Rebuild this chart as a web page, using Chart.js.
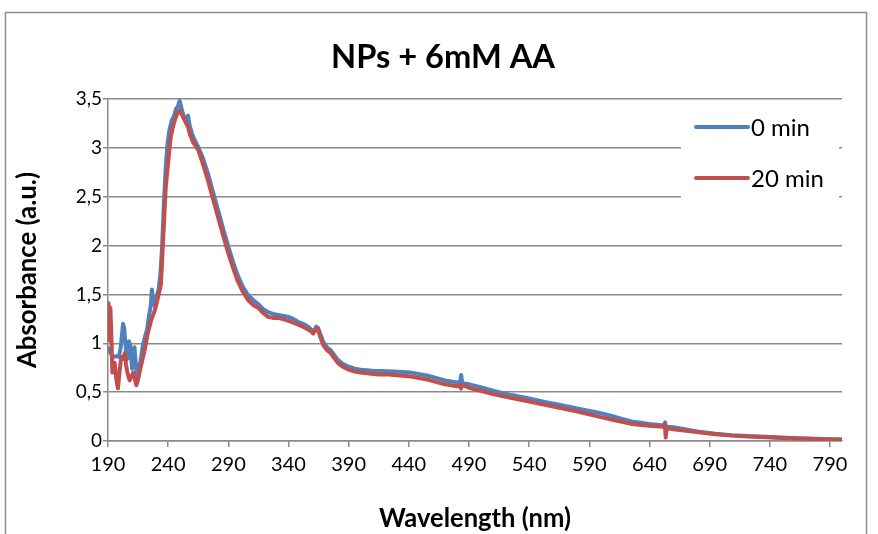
<!DOCTYPE html>
<html>
<head>
<meta charset="utf-8">
<script src="https://cdn.jsdelivr.net/npm/chart.js@4.4.1/dist/chart.umd.min.js"></script>
<style>
  html, body { margin: 0; padding: 0; background: #ffffff; }
  #wrap { width: 878px; height: 534px; }
</style>
</head>
<body>
<div id="wrap"><canvas id="c" width="878" height="534"></canvas></div>
<script>
// UV-Vis spectra of the nanoparticles with 6 mM ascorbic acid
const chartTitle = 'NPs + 6mM AA';
const xTitle = 'Wavelength (nm)';
const yTitle = 'Absorbance (a.u.)';
const seriesNames = ['0 min', '20 min'];
const xTicks = [190, 240, 290, 340, 390, 440, 490, 540, 590, 640, 690, 740, 790];
const yTickLabels = ['0', '0,5', '1', '1,5', '2', '2,5', '3', '3,5'];

// 0 min spectrum
const wl0 = [190, 191.5, 193, 195, 197, 199, 200.5, 202.5, 203.5, 205, 206, 207.5, 208.5, 210, 211, 212, 213, 214, 215.5, 217, 219, 221, 222.5, 224, 225.5, 226.5, 227.5, 229, 230.5, 232, 233.5, 235, 236.5, 238, 239.5, 241, 243, 245, 246.5, 248, 249.5, 250.5, 252, 253.5, 255, 256.5, 258, 260, 262, 265, 269, 273, 277, 281.5, 286, 290, 294, 298, 302, 306.5, 311, 315, 319, 323, 327, 331.5, 336, 340, 344, 348, 352, 356.5, 359, 361, 363, 364.5, 366, 369, 372, 375, 378, 381, 385, 390, 395, 400, 410, 423, 442, 455, 470, 480, 482.5, 483.5, 484.5, 490, 498, 510, 525.5, 540, 553, 567, 581, 597.7, 612, 625, 640, 652, 653, 654, 660, 681, 695, 708.5, 722, 736.5, 750, 764, 778, 791.6, 800];
const abs0 = [0.95, 0.92, 0.88, 0.86, 0.87, 0.86, 0.95, 1.20, 1.15, 0.92, 0.84, 1.02, 0.98, 0.74, 0.82, 0.96, 0.80, 0.67, 0.72, 0.82, 0.98, 1.08, 1.14, 1.28, 1.38, 1.55, 1.42, 1.38, 1.48, 1.55, 1.70, 2.00, 2.45, 2.80, 3.05, 3.18, 3.28, 3.33, 3.40, 3.42, 3.48, 3.44, 3.36, 3.30, 3.30, 3.33, 3.22, 3.14, 3.08, 3.01, 2.89, 2.74, 2.56, 2.36, 2.16, 1.99, 1.83, 1.69, 1.58, 1.49, 1.44, 1.40, 1.35, 1.32, 1.30, 1.29, 1.28, 1.27, 1.25, 1.22, 1.20, 1.17, 1.14, 1.12, 1.17, 1.16, 1.11, 1.01, 0.96, 0.93, 0.88, 0.83, 0.79, 0.76, 0.74, 0.73, 0.72, 0.715, 0.70, 0.67, 0.62, 0.60, 0.60, 0.675, 0.59, 0.58, 0.556, 0.515, 0.47, 0.435, 0.40, 0.365, 0.33, 0.29, 0.245, 0.20, 0.175, 0.16, 0.19, 0.145, 0.14, 0.095, 0.075, 0.06, 0.05, 0.044, 0.035, 0.028, 0.022, 0.017, 0.015];

// 20 min spectrum
const wl20 = [190, 190.5, 191.5, 192, 193, 193.6, 194.5, 195.5, 197, 198.3, 199.5, 201, 202.5, 204, 205, 206, 207, 208, 209.5, 211, 212.5, 213.6, 215, 216, 218, 220.5, 223, 226, 229, 231.6, 234, 236, 238, 240, 242, 244, 246, 248, 249.5, 251, 253, 255, 256.6, 258, 261, 265, 269, 273, 277, 281.5, 286, 290, 294, 298, 302, 306.5, 311, 315, 319, 323, 327, 331.5, 336, 340, 344, 348, 352, 356.4, 359, 360.6, 363, 364.5, 366, 369, 372, 375, 378, 381, 385, 390, 395, 400, 414.7, 423, 442, 455, 470, 480, 482.5, 483.3, 484, 490, 498, 510, 525.5, 540, 553, 567, 581, 597.7, 612, 625, 640, 652, 652.7, 653.5, 654.3, 660, 681, 695, 708.5, 722, 736.5, 750, 764, 778, 791.6, 800];
const abs20 = [1.41, 1.03, 1.30, 1.36, 1.00, 0.70, 0.72, 0.80, 0.62, 0.54, 0.70, 0.86, 0.84, 0.90, 0.78, 0.71, 0.66, 0.62, 0.66, 0.70, 0.62, 0.57, 0.63, 0.69, 0.80, 0.93, 1.10, 1.24, 1.34, 1.47, 1.60, 2.10, 2.60, 2.85, 3.10, 3.22, 3.30, 3.36, 3.38, 3.35, 3.30, 3.25, 3.21, 3.14, 3.05, 2.98, 2.83, 2.67, 2.49, 2.29, 2.09, 1.92, 1.77, 1.63, 1.53, 1.44, 1.39, 1.36, 1.31, 1.27, 1.26, 1.26, 1.245, 1.23, 1.21, 1.19, 1.17, 1.14, 1.12, 1.10, 1.15, 1.14, 1.08, 0.98, 0.93, 0.90, 0.85, 0.80, 0.76, 0.73, 0.71, 0.70, 0.68, 0.68, 0.66, 0.63, 0.58, 0.56, 0.565, 0.535, 0.575, 0.545, 0.52, 0.48, 0.44, 0.405, 0.37, 0.335, 0.30, 0.25, 0.21, 0.175, 0.155, 0.145, 0.17, 0.035, 0.13, 0.12, 0.09, 0.07, 0.055, 0.045, 0.038, 0.03, 0.025, 0.02, 0.015, 0.013];

const BLUE = '#4F81BD';
const RED = '#C0504D';
const GRID = '#8a8a8a';
const FONT = 'Lato, "Open Sans", sans-serif';

function toPoints(xs, ys) {
  return xs.map((x, i) => ({ x: x, y: ys[i] }));
}

// Draws a text line centred on (cx, cy), stretched or squeezed to a set width
function fitText(ctx, text, cx, cy, width, angle) {
  const w = ctx.measureText(text).width;
  ctx.save();
  ctx.translate(cx, cy);
  ctx.rotate(angle || 0);
  ctx.scale(width / w, 1);
  ctx.textAlign = 'center';
  ctx.textBaseline = 'middle';
  ctx.fillText(text, 0, 0);
  ctx.restore();
}

// White page with the grey frame, the titles and the in-plot legend
const framePlugin = {
  id: 'frame',
  beforeDraw(chart) {
    const ctx = chart.ctx;
    ctx.save();
    ctx.fillStyle = '#ffffff';
    ctx.fillRect(0, 0, chart.width, chart.height);
    ctx.strokeStyle = '#8c8c8c';
    ctx.lineWidth = 1.5;
    ctx.strokeRect(5.5, 12.5, 861, 540);
    ctx.restore();
  },
  afterDraw(chart) {
    const ctx = chart.ctx;
    const area = chart.chartArea;
    ctx.save();
    ctx.fillStyle = '#000000';

    ctx.font = 'bold 32px ' + FONT;
    fitText(ctx, chartTitle, 443, 58, 224, 0);

    ctx.font = 'bold 26px ' + FONT;
    fitText(ctx, xTitle, (area.left + area.right) / 2, 519, 192, 0);
    fitText(ctx, yTitle, 28, (area.top + area.bottom) / 2, 196, -Math.PI / 2);

    // legend box (covers the gridlines behind it)
    ctx.fillStyle = '#ffffff';
    ctx.fillRect(681, 101, 158, 98);
    ctx.font = '24px ' + FONT;
    ctx.textAlign = 'left';
    ctx.textBaseline = 'middle';
    const rows = [127, 178];
    chart.data.datasets.forEach((ds, i) => {
      const y = rows[i];
      ctx.strokeStyle = ds.borderColor;
      ctx.lineWidth = 4;
      ctx.lineCap = 'round';
      ctx.beginPath();
      ctx.moveTo(696, y);
      ctx.lineTo(748, y);
      ctx.stroke();
      ctx.fillStyle = '#000000';
      ctx.fillText(ds.label, 751, y + 1);
    });
    ctx.restore();
  }
};

new Chart(document.getElementById('c'), {
  type: 'line',
  data: {
    datasets: [
      { label: seriesNames[0], data: toPoints(wl0, abs0), borderColor: BLUE, backgroundColor: BLUE, order: 2 },
      { label: seriesNames[1], data: toPoints(wl20, abs20), borderColor: RED, backgroundColor: RED, order: 1 }
    ]
  },
  options: {
    responsive: false,
    animation: false,
    events: [],
    layout: { padding: { left: 0, top: 99, right: 36, bottom: 0 } },
    elements: {
      point: { radius: 0 },
      line: { borderWidth: 4, tension: 0, borderJoinStyle: 'round', borderCapStyle: 'round' }
    },
    plugins: {
      legend: { display: false },
      title: { display: false },
      tooltip: { enabled: false }
    },
    scales: {
      x: {
        type: 'linear',
        min: 190,
        max: 800,
        afterBuildTicks(scale) { scale.ticks = xTicks.map(v => ({ value: v })); },
        afterFit(scale) { scale.height = 93; },
        grid: { display: true, drawOnChartArea: false, drawTicks: true, tickLength: 6, color: GRID, lineWidth: 1.5 },
        border: { display: true, color: GRID, width: 1.5 },
        ticks: {
          autoSkip: false,
          maxRotation: 0,
          padding: 6,
          color: '#000000',
          font: { family: FONT, size: 20 },
          callback: (v) => String(v)
        },
        title: { display: false }
      },
      y: {
        min: 0,
        max: 3.5,
        afterBuildTicks(scale) { scale.ticks = yTickLabels.map((t, i) => ({ value: i * 0.5 })); },
        afterFit(scale) { scale.width = 108; },
        grid: { display: true, drawTicks: true, tickLength: 5, color: GRID, lineWidth: 1.5 },
        border: { display: true, color: GRID, width: 1.5 },
        ticks: {
          padding: 1,
          color: '#000000',
          font: { family: FONT, size: 19 },
          callback: (v, i) => yTickLabels[i]
        },
        title: { display: false }
      }
    }
  },
  plugins: [framePlugin]
});
</script>
</body>
</html>
